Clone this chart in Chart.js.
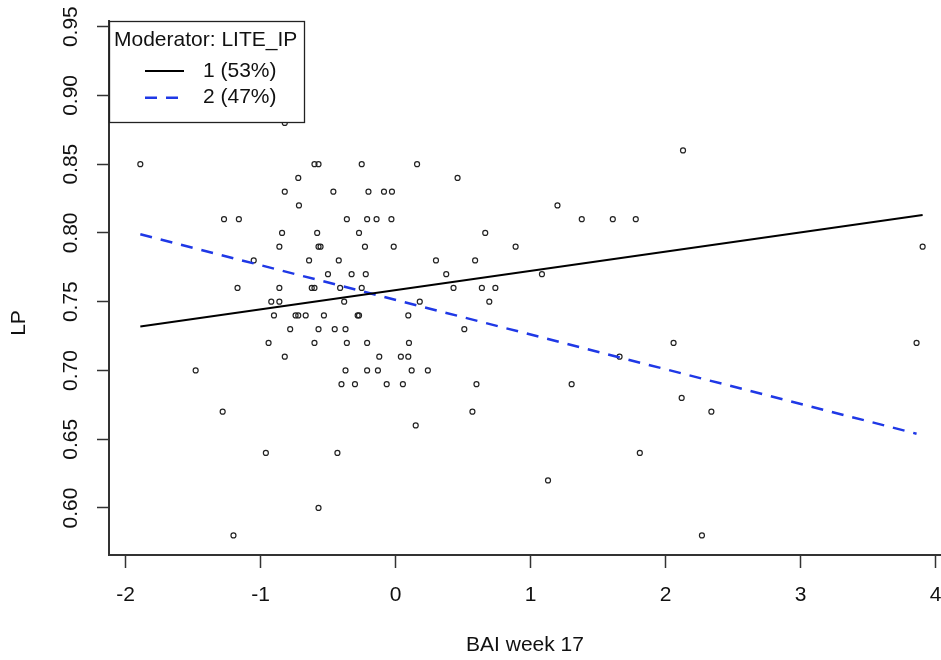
<!DOCTYPE html>
<html>
<head>
<meta charset="utf-8">
<script src="https://cdn.jsdelivr.net/npm/chart.js@4.4.0/dist/chart.umd.min.js"></script>
<style>
  body { margin: 0; background: #fff; }
  canvas { display: block; }
</style>
</head>
<body>
<canvas id="plot" width="941" height="660"></canvas>
<script>
// scatter values (LP rows of 0.01)
const bai = [
  -0.82,
  2.13,
  -1.89, -0.60, -0.57, -0.25, 0.16,
  -0.72, 0.46,
  -0.82, -0.46, -0.20, -0.085, -0.026,
  -0.715, 1.20,
  -1.27, -1.16, -0.36, -0.21, -0.14, -0.03, 1.38, 1.61, 1.78,
  -0.84, -0.58, -0.27, 0.665,
  -0.86, -0.57, -0.555, -0.226, -0.013, 0.89, 3.905,
  -1.05, -0.64, -0.42, 0.30, 0.59,
  -0.50, -0.325, -0.22, 0.376, 1.085,
  -1.17, -0.86, -0.62, -0.60, -0.41, -0.25, 0.43, 0.64, 0.74,
  -0.92, -0.86, -0.38, 0.18, 0.695,
  -0.90, -0.74, -0.72, -0.665, -0.53, -0.28, -0.27, 0.095,
  -0.78, -0.57, -0.45, -0.37, 0.51,
  -0.94, -0.60, -0.36, -0.21, 0.10, 2.06, 3.86,
  -0.82, -0.12, 0.04, 0.095, 1.66,
  -1.48, -0.37, -0.21, -0.13, 0.12, 0.24,
  -0.40, -0.30, -0.065, 0.055, 0.60, 1.305,
  2.12,
  -1.28, 0.57, 2.34,
  0.15,
  -0.96, -0.43, 1.81,
  1.13,
  -0.57,
  -1.20, 2.27
];
const lp = [
  0.88,
  0.86,
  0.85, 0.85, 0.85, 0.85, 0.85,
  0.84, 0.84,
  0.83, 0.83, 0.83, 0.83, 0.83,
  0.82, 0.82,
  0.81, 0.81, 0.81, 0.81, 0.81, 0.81, 0.81, 0.81, 0.81,
  0.80, 0.80, 0.80, 0.80,
  0.79, 0.79, 0.79, 0.79, 0.79, 0.79, 0.79,
  0.78, 0.78, 0.78, 0.78, 0.78,
  0.77, 0.77, 0.77, 0.77, 0.77,
  0.76, 0.76, 0.76, 0.76, 0.76, 0.76, 0.76, 0.76, 0.76,
  0.75, 0.75, 0.75, 0.75, 0.75,
  0.74, 0.74, 0.74, 0.74, 0.74, 0.74, 0.74, 0.74,
  0.73, 0.73, 0.73, 0.73, 0.73,
  0.72, 0.72, 0.72, 0.72, 0.72, 0.72, 0.72,
  0.71, 0.71, 0.71, 0.71, 0.71,
  0.70, 0.70, 0.70, 0.70, 0.70, 0.70,
  0.69, 0.69, 0.69, 0.69, 0.69, 0.69,
  0.68,
  0.67, 0.67, 0.67,
  0.66,
  0.64, 0.64, 0.64,
  0.62,
  0.60,
  0.58, 0.58
];

// simple slopes for the two moderator groups (end points)
const line1X = [-1.89, 3.905];
const line1Y = [0.732, 0.813];
const line2X = [-1.89, 3.86];
const line2Y = [0.799, 0.654];

const legendTitle = 'Moderator: LITE_IP';
const groupLabels = ['1 (53%)', '2 (47%)'];

const xTicks = [-2, -1, 0, 1, 2, 3, 4];
const yTicks = [0.60, 0.65, 0.70, 0.75, 0.80, 0.85, 0.90, 0.95];

const FONT = '"Liberation Sans", Arial, Helvetica, sans-serif';
const INK = '#111';

const points = bai.map((x, i) => ({ x: x, y: lp[i] }));
const toXY = (xs, ys) => xs.map((x, i) => ({ x: x, y: ys[i] }));

// R style legend box in the top left corner of the plot
const rLegend = {
    id: 'rLegend',
    afterDatasetsDraw(chart) {
        const ctx = chart.ctx;
        const a = chart.chartArea;
        const x0 = a.left, y0 = a.top;
        ctx.save();
        ctx.fillStyle = '#fff';
        ctx.fillRect(x0, y0, 195, 102);
        ctx.strokeStyle = '#222';
        ctx.lineWidth = 1.3;
        ctx.strokeRect(x0 + 0.5, y0 + 0.5, 195, 101);
        ctx.font = '21px ' + FONT;
        ctx.fillStyle = INK;
        ctx.textBaseline = 'middle';
        ctx.fillText(legendTitle, x0 + 5, y0 + 19);
        chart.data.datasets.slice(0, 2).forEach((ds, i) => {
            const yy = y0 + 50 + i * 26.7;
            ctx.beginPath();
            ctx.setLineDash(ds.borderDash || []);
            ctx.strokeStyle = ds.borderColor;
            ctx.lineWidth = ds.borderWidth;
            ctx.moveTo(x0 + 36, yy);
            ctx.lineTo(x0 + 75, yy);
            ctx.stroke();
            ctx.setLineDash([]);
            ctx.fillStyle = INK;
            ctx.fillText(ds.label, x0 + 94, yy);
        });
        ctx.restore();
    }
};

// y axis title sits a bit below the middle in the original
const yTitle = {
    id: 'yTitle',
    afterDraw(chart) {
        const ctx = chart.ctx;
        ctx.save();
        ctx.translate(19, 323);
        ctx.rotate(-Math.PI / 2);
        ctx.font = '21px ' + FONT;
        ctx.fillStyle = INK;
        ctx.textAlign = 'center';
        ctx.textBaseline = 'middle';
        ctx.fillText('LP', 0, 0);
        ctx.restore();
    }
};

const chart = new Chart(document.getElementById('plot').getContext('2d'), {
    type: 'scatter',
    data: {
        datasets: [
            {
                type: 'line',
                label: groupLabels[0],
                data: toXY(line1X, line1Y),
                borderColor: '#000',
                borderWidth: 2,
                pointRadius: 0,
                fill: false
            },
            {
                type: 'line',
                label: groupLabels[1],
                data: toXY(line2X, line2Y),
                borderColor: '#1f38e6',
                borderWidth: 2.5,
                borderDash: [12, 9],
                pointRadius: 0,
                fill: false
            },
            {
                label: 'LP',
                data: points,
                pointStyle: 'circle',
                pointRadius: 2.5,
                borderWidth: 1.2,
                borderColor: '#222',
                backgroundColor: 'rgba(0,0,0,0)'
            }
        ]
    },
    options: {
        responsive: false,
        devicePixelRatio: 1,
        animation: false,
        events: [],
        layout: {
            autoPadding: false,
            padding: { top: 21, right: 0, bottom: 0, left: 0 }
        },
        plugins: {
            legend: { display: false },
            tooltip: { enabled: false }
        },
        scales: {
            x: {
                type: 'linear',
                min: -2.122,
                max: 4.041,
                afterBuildTicks: scale => { scale.ticks = xTicks.map(v => ({ value: v })); },
                afterFit: scale => {
                    scale.height = 105;
                    scale.paddingLeft = 0;
                    scale.paddingRight = 0;
                },
                grid: {
                    drawOnChartArea: false,
                    tickLength: 13,
                    tickColor: '#333',
                    tickWidth: 1.5
                },
                border: { display: true, color: '#333', width: 2 },
                ticks: {
                    padding: 15,
                    color: INK,
                    font: { family: FONT, size: 21 },
                    maxRotation: 0,
                    callback: v => String(v)
                },
                title: {
                    display: true,
                    text: 'BAI week 17',
                    color: INK,
                    font: { family: FONT, size: 21 },
                    padding: { top: 0, bottom: 2 }
                }
            },
            y: {
                type: 'linear',
                min: 0.5658,
                max: 0.9541,
                afterBuildTicks: scale => { scale.ticks = yTicks.map(v => ({ value: v })); },
                afterFit: scale => {
                    scale.width = 109;
                    scale.paddingTop = 0;
                    scale.paddingBottom = 0;
                },
                grid: {
                    drawOnChartArea: false,
                    tickLength: 12,
                    tickColor: '#333',
                    tickWidth: 1.5
                },
                border: { display: true, color: '#333', width: 2 },
                ticks: {
                    padding: 5,
                    color: INK,
                    crossAlign: 'center',
                    minRotation: 90,
                    maxRotation: 90,
                    font: { family: FONT, size: 21 },
                    callback: v => v.toFixed(2)
                },
                title: { display: false }
            }
        }
    },
    plugins: [rLegend, yTitle]
});
</script>
</body>
</html>
